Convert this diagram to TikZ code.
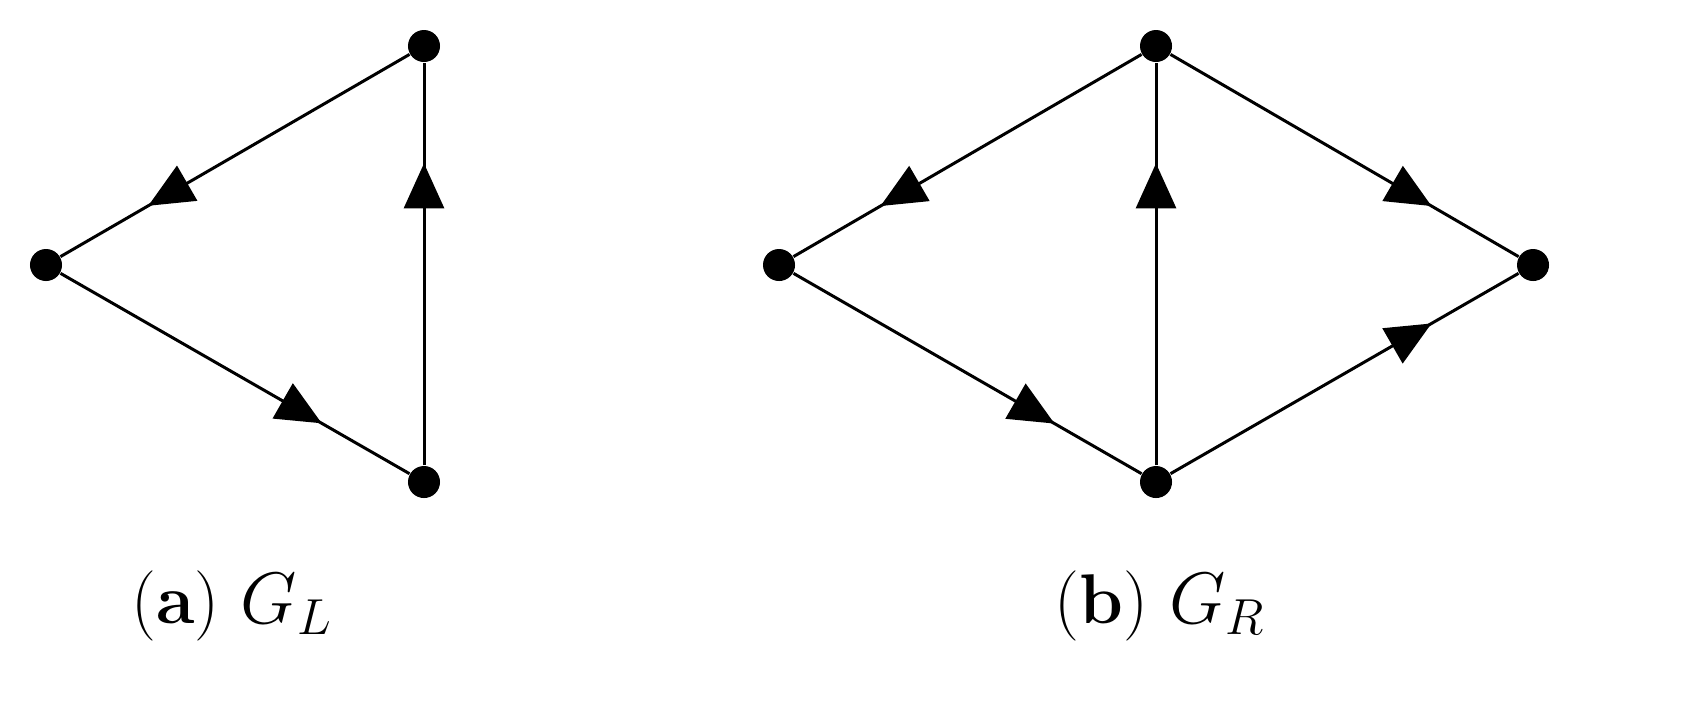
\documentclass[tikz,border=0pt]{standalone}
\usetikzlibrary{arrows.meta,decorations.markings}
\begin{document}
\begin{tikzpicture}[x=0.01cm,y=-0.01cm,
  vtx/.style={circle,fill=black,inner sep=0pt,minimum size=0.32cm},
  edg/.style={line width=0.85pt,postaction={decorate},decoration={markings,
    mark=at position 0.75 with {\arrow{Triangle[length=0.45cm,width=0.4cm]}}}},
  captext/.style={font=\fontsize{20}{24}\selectfont}]
\useasboundingbox (0,0) rectangle (1707,705);
\node[vtx] (at) at (424,46) {};
\node[vtx] (al) at (46,265) {};
\node[vtx] (ab) at (424,482) {};
\draw[edg] (at) -- (al);
\draw[edg] (al) -- (ab);
\draw[edg] (ab) -- (at);
\node[vtx] (bt) at (1156,46) {};
\node[vtx] (bl) at (779,265) {};
\node[vtx] (br) at (1533,265) {};
\node[vtx] (bb) at (1156,482) {};
\draw[edg] (bt) -- (bl);
\draw[edg] (bl) -- (bb);
\draw[edg] (bb) -- (bt);
\draw[edg] (bt) -- (br);
\draw[edg] (bb) -- (br);
\node[captext] (ca) at (232,606) {(\textbf{a}) $G_L$};
\node[captext] (cb) at (1160,606) {(\textbf{b}) $G_R$};
\end{tikzpicture}
\end{document}
